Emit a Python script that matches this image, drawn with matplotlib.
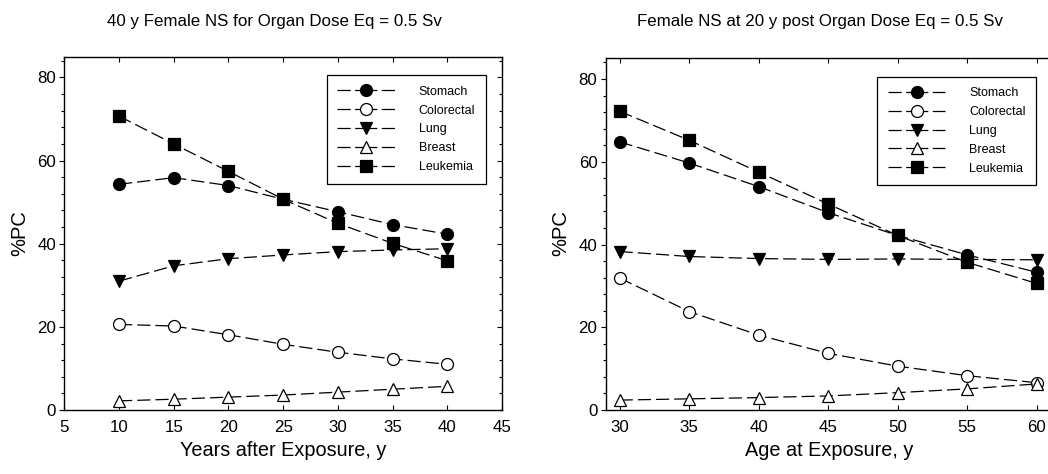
import matplotlib
matplotlib.use("Agg")
import matplotlib.pyplot as plt
from matplotlib.ticker import MultipleLocator

plt.rcParams["font.family"] = ["Liberation Sans", "DejaVu Sans"]
plt.rcParams["lines.scale_dashes"] = False

# Organs shown in both panels
organs = ["Stomach", "Colorectal", "Lung", "Breast", "Leukemia"]

# Left panel: 40 y female, by years after exposure
years_after = [10, 15, 20, 25, 30, 35, 40]
stomach_a = [54.3, 55.9, 54.0, 50.7, 47.7, 44.6, 42.3]
colorectal_a = [20.6, 20.2, 18.1, 15.8, 13.9, 12.3, 11.0]
lung_a = [31.0, 34.7, 36.4, 37.3, 38.1, 38.5, 38.8]
breast_a = [2.2, 2.6, 3.1, 3.6, 4.3, 5.0, 5.7]
leukemia_a = [70.7, 64.0, 57.4, 50.7, 44.9, 40.1, 35.9]

# Right panel: 20 y post exposure, by age at exposure
age_at_exposure = [30, 35, 40, 45, 50, 55, 60]
stomach_b = [64.8, 59.7, 54.0, 47.7, 42.2, 37.5, 33.3]
colorectal_b = [31.9, 23.8, 18.1, 13.7, 10.6, 8.3, 6.6]
lung_b = [38.3, 37.1, 36.6, 36.4, 36.5, 36.4, 36.3]
breast_b = [2.4, 2.7, 3.0, 3.4, 4.2, 5.1, 6.3]
leukemia_b = [72.2, 65.2, 57.5, 49.8, 42.2, 35.7, 30.6]

left_title = "40 y Female NS for Organ Dose Eq = 0.5 Sv"
right_title = "Female NS at 20 y post Organ Dose Eq = 0.5 Sv"
left_xlabel = "Years after Exposure, y"
right_xlabel = "Age at Exposure, y"
ylabel = "%PC"

# marker, face colour, size for each organ
styles = [
    ("o", "black", 8.6),
    ("o", "white", 8.6),
    ("v", "black", 8.6),
    ("^", "white", 8.6),
    ("s", "black", 8.0),
]

DASH = (0, (9.5, 3.6))
# legend sample: long dash, short gap, marker, short gap, long dash
LEGEND_DASH = (0, (9.5, 3.2, 16.0, 3.2, 9.5, 60))

fig = plt.figure(figsize=(10.48, 4.74), dpi=100)
ax_l = fig.add_axes([0.0614, 0.1350, 0.4176, 0.7454])
ax_r = fig.add_axes([0.5780, 0.1350, 0.4270, 0.7420])


def draw(ax, x, series, xlim, xticks, legend_x):
    for name, y, (m, fc, ms) in zip(organs, series, styles):
        ax.plot(x, y, linestyle=DASH, color="black", linewidth=0.9,
                marker=m, markersize=ms, markerfacecolor=fc,
                markeredgecolor="black", markeredgewidth=0.9,
                label=name, clip_on=False)
    ax.set_xlim(*xlim)
    ax.set_ylim(0, 85)
    ax.set_xticks(xticks)
    ax.set_yticks([0, 20, 40, 60, 80])
    ax.yaxis.set_minor_locator(MultipleLocator(4))
    ax.tick_params(axis="both", which="major", labelsize=12.2, length=3.5,
                   width=0.8, color="black")
    ax.tick_params(axis="both", which="minor", length=2.5, width=0.8)
    ax.tick_params(axis="x", which="both", direction="in", top=True,
                   bottom=True, pad=7)
    ax.tick_params(axis="y", which="both", direction="out", left=True,
                   right=False, pad=2.5)
    # inward ticks on the right spine
    sec = ax.secondary_yaxis("right")
    sec.set_yticks([0, 20, 40, 60, 80])
    sec.yaxis.set_minor_locator(MultipleLocator(4))
    sec.tick_params(axis="y", which="major", direction="in", length=3.5,
                    width=0.8, labelright=False)
    sec.tick_params(axis="y", which="minor", direction="in", length=2.5,
                    width=0.8, labelright=False)
    sec.spines["right"].set_visible(False)
    for s in ax.spines.values():
        s.set_linewidth(1.0)
    leg = ax.legend(loc="upper right", bbox_to_anchor=(legend_x, 0.948),
                    borderaxespad=0, fontsize=9, handlelength=4.6,
                    handletextpad=1.9, labelspacing=0.55, borderpad=0.85,
                    fancybox=False, framealpha=1, edgecolor="black",
                    numpoints=1)
    leg.get_frame().set_linewidth(0.9)
    for line in leg.get_lines():
        line.set_linestyle(LEGEND_DASH)


draw(ax_l, years_after,
     [stomach_a, colorectal_a, lung_a, breast_a, leukemia_a],
     (5, 45), [5, 10, 15, 20, 25, 30, 35, 40, 45], 0.963)
draw(ax_r, age_at_exposure,
     [stomach_b, colorectal_b, lung_b, breast_b, leukemia_b],
     (29, 61.2), [30, 35, 40, 45, 50, 55, 60], 0.962)

fig.text(0.2615, 0.954, left_title, ha="center", va="center", fontsize=12.2)
fig.text(0.7824, 0.954, right_title, ha="center", va="center", fontsize=12.2)
fig.text(0.270, 0.050, left_xlabel, ha="center", va="center", fontsize=14.3)
fig.text(0.791, 0.050, right_xlabel, ha="center", va="center", fontsize=14.3)
fig.text(0.019, 0.508, ylabel, ha="center", va="center", fontsize=14.5,
         rotation=90)
fig.text(0.535, 0.508, ylabel, ha="center", va="center", fontsize=14.5,
         rotation=90)

fig.savefig("out.png", dpi=100)
